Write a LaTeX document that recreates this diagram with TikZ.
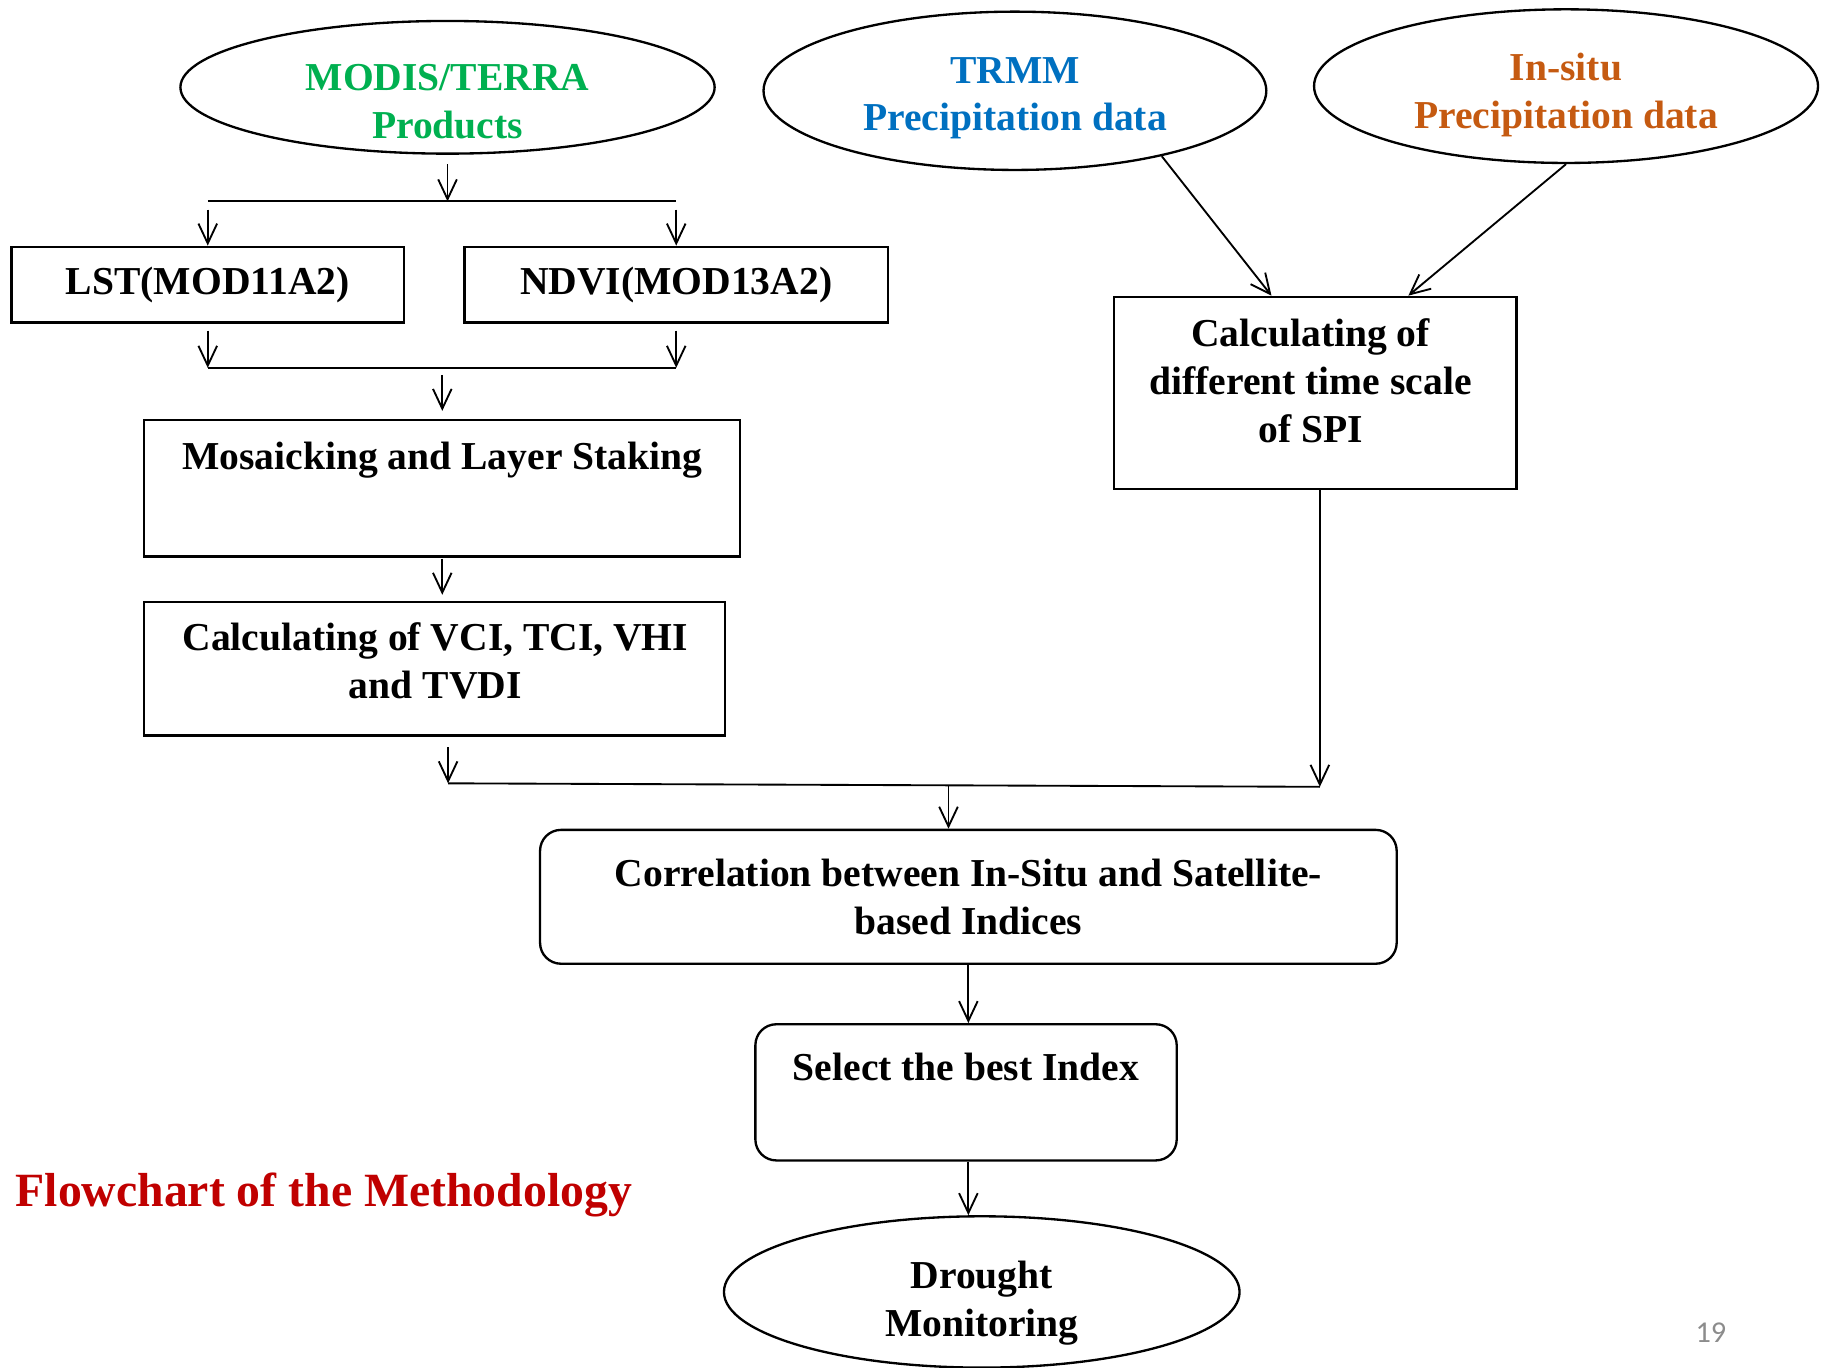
\documentclass[tikz,border=0pt]{standalone}
\usepackage{fontspec}
\setmainfont{Liberation Serif}
\newfontfamily\numfont{Carlito}
\usetikzlibrary{shapes.geometric,arrows.meta,calc}
\definecolor{modisgreen}{HTML}{00B050}
\definecolor{trmmblue}{HTML}{0070C0}
\definecolor{insituorange}{HTML}{C55A11}
\definecolor{titlered}{HTML}{C00000}
\definecolor{pagegray}{HTML}{8C8C8C}
\begin{document}
\begin{tikzpicture}[x=0.5pt,y=-0.5pt,
  font=\bfseries\fontsize{17}{20.5}\selectfont,
  box/.style={draw, line width=1pt, rectangle, inner sep=0pt},
  rbox/.style={box, rounded corners=9pt},
  oval/.style={draw, line width=1pt, ellipse, inner sep=0pt},
  txt/.style={align=center, inner sep=0pt},
  conn/.style={line width=0.8pt},
  arr/.style={conn, -{Straight Barb[length=8.5pt,width=8pt]}},
]
\useasboundingbox (0,0) rectangle (1568,1174.5);

% ellipses
\node[oval, minimum width=229.5pt, minimum height=57pt] (modis) at (384.5,75) {};
\node[txt, text=modisgreen] (modistxt) at (384.5,87.5) {MODIS/TERRA\\Products};
\node[oval, minimum width=216pt, minimum height=68pt] (trmm) at (872,78) {};
\node[txt, text=trmmblue] (trmmtxt) at (872,84.5) {TRMM\\Precipitation data};
\node[oval, minimum width=216.5pt, minimum height=66pt] (insitu) at (1345.5,74) {};
\node[txt, text=insituorange] (insitutxt) at (1345.5,81.5) {In-situ\\Precipitation data};
\node[oval, minimum width=221.5pt, minimum height=65pt] (drought) at (843.5,1110) {};
\node[txt] (droughttxt) at (843.5,1119.5) {Drought\\Monitoring};

% boxes
\node[box, minimum width=168.5pt, minimum height=32.5pt] (lst) at (178.5,244.5) {LST(MOD11A2)};
\node[box, minimum width=182pt, minimum height=32.5pt] (ndvi) at (581,244.5) {NDVI(MOD13A2)};
\node[box, minimum width=256pt, minimum height=58.5pt] (mos) at (380,419.5) {};
\node[txt] (mostxt) at (380,395) {Mosaicking and Layer Staking};
\node[box, minimum width=249.5pt, minimum height=57.5pt] (vci) at (373.5,574.5) {};
\node[txt] (vcitxt) at (374,567.5) {Calculating of VCI, TCI, VHI\\and TVDI};
\node[box, minimum width=173pt, minimum height=82.5pt] (spi) at (1130,337.5) {};
\node[txt] (spitxt) at (1126,327) {Calculating of\\different time scale\\of SPI};
\node[rbox, minimum width=368pt, minimum height=57.5pt] (corr) at (832,770.5) {};
\node[txt] (corrtxt) at (832,770.5) {Correlation between In-Situ and Satellite-\\based Indices};
\node[rbox, minimum width=181pt, minimum height=58.5pt] (sel) at (830,938.5) {};
\node[txt] (seltxt) at (830,917) {Select the best Index};

% texts
\node[anchor=base west, inner sep=0pt, text=titlered, font=\bfseries\fontsize{20.5}{24}\selectfont] (title) at (13,1037) {Flowchart of the Methodology};
\node[inner sep=0pt, text=pagegray, font=\numfont\fontsize{13}{15}\selectfont] (pagenum) at (1470,1145) {19};

% junction coordinates
\coordinate (j1) at (384.5,173);
\coordinate (hA1) at (178.5,173);
\coordinate (hA2) at (581,173);
\coordinate (hB1) at (178.5,316);
\coordinate (hB2) at (581,316);
\coordinate (j2) at (380,316);
\coordinate (j3) at (385,673);
\coordinate (j4) at (1134,676);
\coordinate (j5) at ($(j3)!0.574!(j4)$);

% top branch
\draw[arr, shorten <=4pt] (modis.south) -- (j1);
\draw[conn] (hA1) -- (hA2);
\draw[arr, shorten <=3.5pt] (hA1) -- (lst.north);
\draw[arr, shorten <=3.5pt] (hA2) -- (ndvi.north);

% merge
\draw[arr, shorten <=3pt] (lst.south) -- (hB1);
\draw[arr, shorten <=3pt] (ndvi.south) -- (hB2);
\draw[conn] (hB1) -- (hB2);
\draw[arr, shorten <=3pt, shorten >=3.5pt] (j2) -- (mos.north);
\draw[arr, shorten <=0.5pt, shorten >=2.5pt] (mos.south) -- (vci.north -| mos.south);

% bottom merge
\draw[arr, shorten <=4.5pt] (vci.south -| j3) -- (j3);
\draw[conn] (j3) -- (j4);
\draw[arr] (spi.south -| j4) -- (j4);
\draw[arr] (j5) -- (j5 |- corr.north);

% right branch
\draw[arr] (trmm.-24) -- ($(spi.north west)!0.392!(spi.north east)$);
\draw[arr] (insitu.south) -- ($(spi.north west)!0.73!(spi.north east)$);

% lower chain
\draw[arr] (corr.south) -- (corr.south |- sel.north);
\draw[arr] (sel.south -| corr.south) -- (corr.south |- drought.north);
\end{tikzpicture}
\end{document}
